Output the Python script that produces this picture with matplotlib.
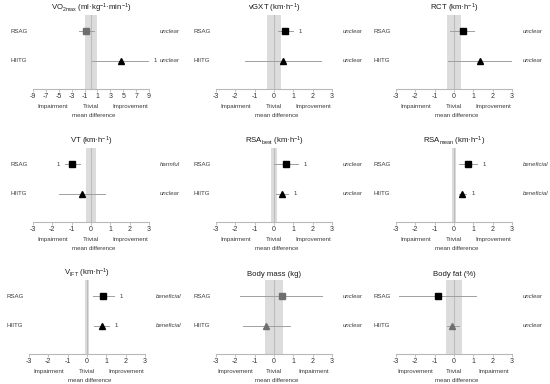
import numpy as np
import matplotlib
matplotlib.use("Agg")
import matplotlib.pyplot as plt

plt.rcParams['font.family'] = ['Liberation Sans', 'DejaVu Sans']
plt.rcParams['mathtext.default'] = 'regular'
plt.rcParams['axes.unicode_minus'] = False

# panel data
titles = ['VO$_{2max}$ (ml·kg$^{-1}$·min$^{-1}$)', 'vGXT (km·h$^{-1}$)', 'RCT (km·h$^{-1}$)',
          'VT (km·h$^{-1}$)', 'RSA$_{best}$ (km·h$^{-1}$)', 'RSA$_{mean}$ (km·h$^{-1}$)',
          'V$_{IFT}$ (km·h$^{-1}$)', 'Body mass (kg)', 'Body fat (%)']
xlims = [9, 3, 3, 3, 3, 3, 3, 3, 3]
trivial = [1.0, 0.38, 0.35, 0.27, 0.13, 0.10, 0.10, 0.47, 0.40]

rsag_mean = [-0.7, 0.58, 0.46, -0.97, 0.61, 0.70, 0.85, 0.39, -0.84]
rsag_lo = [-1.9, 0.23, -0.21, -1.33, 0.00, 0.25, 0.29, -1.74, -2.84]
rsag_hi = [0.5, 0.96, 1.06, -0.57, 1.22, 1.17, 1.41, 2.49, 1.15]
rsag_flag = ['', 'hi', '', 'lo', 'hi', 'hi', 'hi', '', '']
rsag_grey = [True, False, False, False, False, False, False, True, False]
rsag_outcome = ['unclear', 'unclear', 'unclear', 'harmful', 'unclear', 'beneficial',
                'beneficial', 'unclear', 'unclear']

hiitg_mean = [4.6, 0.47, 1.36, -0.48, 0.42, 0.42, 0.78, -0.42, -0.08]
hiitg_lo = [0.2, -1.52, -0.30, -1.67, 0.12, 0.27, 0.37, -1.62, -0.34]
hiitg_hi = [8.9, 2.44, 3.00, 0.73, 0.70, 0.60, 1.16, 0.82, 0.28]
hiitg_flag = ['hi', '', '', '', 'hi', 'hi', 'hi', '', '']
hiitg_grey = [False, False, False, False, False, False, False, True, True]
hiitg_outcome = ['unclear', 'unclear', 'unclear', 'unclear', 'unclear', 'beneficial',
                 'beneficial', 'unclear', 'unclear']

reversed_scale = [False] * 7 + [True, True]

fig = plt.figure(figsize=(5.5, 3.84), dpi=100)
W, H = 550, 384

lefts = [33, 216, 396, 33, 216, 396, 29, 216, 396]
bottoms = [89, 222, 354]
width, height = 116, 74
grey_txt = '#3a3a3a'
fs = 4.4

for i in range(9):
    r, c = i // 3, i % 3
    ax = fig.add_axes([lefts[i] / W, 1 - bottoms[r] / H, width / W, height / H])
    lim = xlims[i]
    ax.set_xlim(-lim, lim)
    ax.set_ylim(0.05, 2.55)
    ax.set_xticks(np.arange(-lim, lim + 1, 2 if lim == 9 else 1))
    ax.set_yticks([])
    for s in ['left', 'top', 'right']:
        ax.spines[s].set_visible(False)
    ax.spines['bottom'].set_color('#b8b8b8')
    ax.spines['bottom'].set_linewidth(0.8)
    ax.tick_params(axis='x', length=2, width=0.6, color='#b8b8b8', labelsize=5,
                   labelcolor='#333333', pad=1.2)

    ax.axvspan(-trivial[i], trivial[i], color='#dcdcdc', lw=0, zorder=0)
    ax.axvline(0, color='#bdbdbd', lw=0.8, zorder=1)

    rows = [(2, rsag_mean[i], rsag_lo[i], rsag_hi[i], rsag_flag[i], rsag_grey[i], 's', 4.5, 'RSAG', rsag_outcome[i]),
            (1, hiitg_mean[i], hiitg_lo[i], hiitg_hi[i], hiitg_flag[i], hiitg_grey[i], '^', 4, 'HIITG', hiitg_outcome[i])]
    for y, m, lo, hi, flag, grey, mk, ms, name, outcome in rows:
        ax.plot([lo, hi], [y, y], color='#a0a0a0', lw=0.7, zorder=2)
        col = '#6e6e6e' if grey else 'black'
        ax.plot(m, y, marker=mk, ms=ms, color=col, mec=col, zorder=3)
        if flag == 'hi':
            ax.annotate('1', (hi, y), xytext=(4, 0), textcoords='offset points',
                        fontsize=fs, color=grey_txt, va='center', ha='left')
        elif flag == 'lo':
            ax.annotate('1', (lo, y), xytext=(-4, 0), textcoords='offset points',
                        fontsize=fs, color=grey_txt, va='center', ha='right')
        ax.text(-0.19, y, name, transform=ax.get_yaxis_transform(), fontsize=fs,
                color=grey_txt, va='center', ha='left')
        ax.text(1.09, y, outcome, transform=ax.get_yaxis_transform(), fontsize=4.3,
                color=grey_txt, va='center', ha='left', style='italic')

    ax.set_title(titles[i], fontsize=5.6, pad=3, color='#1a1a1a')
    left_lab, right_lab = ('Improvement', 'Impairment') if reversed_scale[i] else ('Impairment', 'Improvement')
    ax.text(0.17, -0.23, left_lab, transform=ax.transAxes, fontsize=fs, color=grey_txt, ha='center', va='center')
    ax.text(0.5, -0.23, 'Trivial', transform=ax.transAxes, fontsize=fs, color=grey_txt, ha='center', va='center')
    ax.text(0.84, -0.23, right_lab, transform=ax.transAxes, fontsize=fs, color=grey_txt, ha='center', va='center')
    ax.text(0.52, -0.36, 'mean difference', transform=ax.transAxes, fontsize=fs, color=grey_txt, ha='center', va='center')

fig.savefig('out.png', dpi=100)
